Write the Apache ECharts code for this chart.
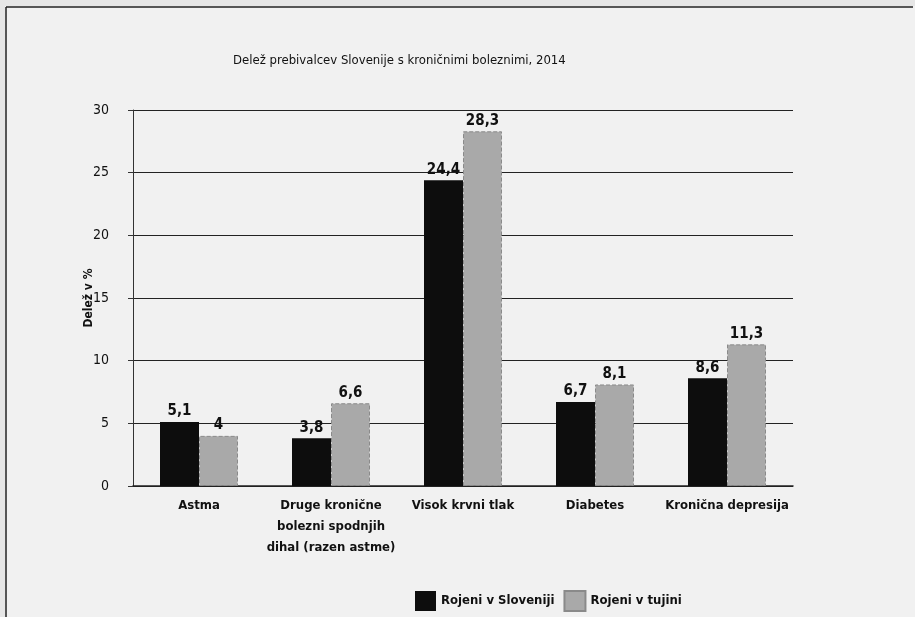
<!DOCTYPE html>
<html>
<head>
<meta charset="utf-8">
<script src="https://cdn.jsdelivr.net/npm/echarts@6/dist/echarts.min.js"></script>
<style>
html,body{margin:0;padding:0;background:#e9e9e9;}
#c{width:915px;height:617px;}
</style>
</head>
<body>
<div id="c"></div>
<script>
const categories = ['Astma', 'Druge kronične\nbolezni spodnjih\ndihal (razen astme)', 'Visok krvni tlak', 'Diabetes', 'Kronična depresija'];
const seriesNames = ['Rojeni v Sloveniji', 'Rojeni v tujini'];
const bornSlovenia = [5.1, 3.8, 24.4, 6.7, 8.6];
const bornAbroad = [4, 6.6, 28.3, 8.1, 11.3];
const yTicks = [0, 5, 10, 15, 20, 25, 30];

const FONT = '"Liberation Sans Narrow", "DejaVu Sans Condensed", "Open Sans", sans-serif';
const chart = echarts.init(document.getElementById('c'), null, {renderer: 'canvas'});
const fmt = p => String(p.value).replace('.', ',');
chart.setOption({
  backgroundColor: '#f1f1f1',
  animation: false,
  textStyle: {fontFamily: FONT},
  graphic: [
    {type: 'rect', shape: {x: 0, y: 0, width: 915, height: 6}, style: {fill: '#e6e6e6'}, z: 9},
    {type: 'rect', shape: {x: 0, y: 0, width: 5, height: 617}, style: {fill: '#e6e6e6'}, z: 9},
    {type: 'line', shape: {x1: 6, y1: 7, x2: 913, y2: 7}, style: {stroke: '#222', lineWidth: 1.5}, z: 10},
    {type: 'line', shape: {x1: 6, y1: 7, x2: 6, y2: 617}, style: {stroke: '#222', lineWidth: 1.5}, z: 10}
  ],
  title: {
    text: 'Delež prebivalcev Slovenije s kroničnimi boleznimi, 2014',
    left: 228, top: 49,
    textStyle: {fontFamily: FONT, fontSize: 13, fontWeight: 'normal', color: '#111'}
  },
  legend: {
    top: 585, left: 410,
    itemWidth: 21, itemHeight: 20, itemGap: 9,
    icon: 'rect',
    textStyle: {fontFamily: FONT, fontSize: 13, fontWeight: 'bold', color: '#111'},
    data: seriesNames
  },
  grid: {left: 133, right: 122, top: 110, bottom: 131},
  xAxis: {
    type: 'category',
    data: categories,
    axisLine: {show: true, lineStyle: {color: '#222', width: 1.5}},
    axisTick: {show: false},
    axisLabel: {interval: 0, color: '#111', fontSize: 13, fontWeight: 'bold', margin: 9, lineHeight: 21, fontFamily: FONT}
  },
  yAxis: {
    type: 'value',
    min: yTicks[0], max: yTicks[yTicks.length - 1], interval: 5,
    name: 'Delež v %',
    nameLocation: 'middle', nameGap: 38, nameRotate: 90, nameMoveOverlap: false,
    nameTextStyle: {color: '#111', fontSize: 12, fontWeight: 'bold', fontFamily: FONT},
    axisLine: {show: true, lineStyle: {color: '#333', width: 1}},
    axisTick: {show: true, inside: false, length: 5, lineStyle: {color: '#333'}},
    axisLabel: {color: '#111', fontSize: 14, margin: 24, fontFamily: FONT},
    splitLine: {show: true, lineStyle: {color: '#222', width: 1.2}}
  },
  series: [
    {
      name: seriesNames[0], type: 'bar', data: bornSlovenia,
      barWidth: 39, barGap: '0%',
      itemStyle: {color: '#0d0d0d'},
      label: {show: true, position: 'top', formatter: fmt, fontSize: 15, fontWeight: 'bold', color: '#111', distance: 3, fontFamily: FONT}
    },
    {
      name: seriesNames[1], type: 'bar', data: bornAbroad,
      barWidth: 39,
      itemStyle: {color: '#a9a9a9', borderColor: '#8a8a8a', borderWidth: 1, borderType: 'dashed'},
      label: {show: true, position: 'top', formatter: fmt, fontSize: 15, fontWeight: 'bold', color: '#111', distance: 3, fontFamily: FONT}
    }
  ]
});
</script>
</body>
</html>
